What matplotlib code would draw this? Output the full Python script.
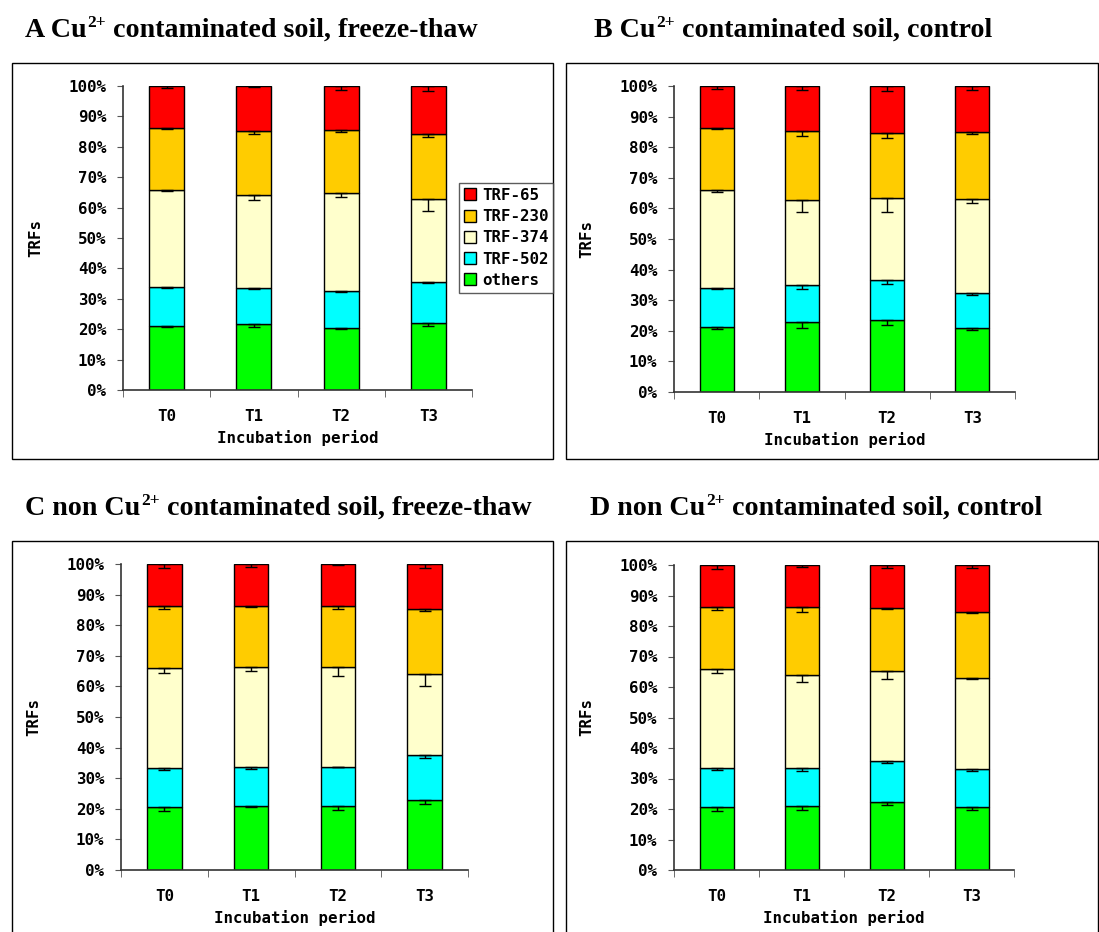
import numpy as np
import matplotlib.pyplot as plt
from matplotlib.patches import Rectangle

periods = ["T0", "T1", "T2", "T3"]
groups = ["others", "TRF-502", "TRF-374", "TRF-230", "TRF-65"]
colors = ["#00FF00", "#00FFFF", "#FFFFCC", "#FFCC00", "#FF0000"]

# relative abundance (%) of each TRF group, bottom to top
a_vals = [[21.1, 21.6, 20.5, 22.2],
          [12.9, 12.0, 12.2, 13.4],
          [31.9, 30.6, 32.2, 27.2],
          [20.2, 20.9, 20.5, 21.3],
          [13.9, 14.9, 14.6, 15.9]]
a_err = [[0.5, 1.0, 0.3, 1.0],
         [0.3, 0.3, 0.6, 0.3],
         [0.6, 1.6, 1.3, 3.8],
         [0.2, 0.9, 0.4, 1.0],
         [0.8, 0.2, 1.2, 1.8]]

b_vals = [[21.2, 22.9, 23.5, 20.9],
          [12.8, 12.1, 13.0, 11.5],
          [32.0, 27.6, 26.8, 30.6],
          [20.2, 22.7, 21.3, 22.0],
          [13.8, 14.7, 15.4, 15.0]]
b_err = [[0.7, 2.0, 1.7, 0.5],
         [0.3, 1.3, 1.1, 0.8],
         [0.6, 3.8, 4.5, 1.1],
         [0.2, 1.7, 1.5, 0.8],
         [0.9, 1.2, 1.5, 1.2]]

c_vals = [[20.5, 20.8, 20.8, 22.9],
          [12.9, 12.8, 12.9, 14.6],
          [32.6, 32.7, 32.6, 26.5],
          [20.4, 20.1, 20.1, 21.4],
          [13.6, 13.6, 13.6, 14.6]]
c_err = [[1.3, 0.3, 1.3, 1.3],
         [0.6, 0.7, 0.1, 1.0],
         [1.5, 1.2, 2.9, 4.0],
         [1.0, 0.6, 1.1, 0.8],
         [1.4, 1.0, 0.3, 1.4]]

d_vals = [[20.5, 20.9, 22.3, 20.5],
          [12.9, 12.5, 13.5, 12.5],
          [32.6, 30.4, 29.6, 29.8],
          [20.2, 22.4, 20.5, 21.8],
          [13.8, 13.8, 14.1, 15.4]]
d_err = [[1.3, 1.3, 1.0, 0.7],
         [0.5, 1.0, 0.7, 0.5],
         [1.4, 2.3, 2.8, 0.3],
         [1.0, 1.7, 0.3, 0.3],
         [1.4, 0.8, 1.1, 1.1]]

# title pieces: before superscript, superscript, after
titles = [("A Cu", "2+", " contaminated soil, freeze-thaw"),
          ("B Cu", "2+", " contaminated soil, control"),
          ("C non Cu", "2+", " contaminated soil, freeze-thaw"),
          ("D non Cu", "2+", " contaminated soil, control")]

W, H = 1099, 932
fig = plt.figure(figsize=(W / 100, H / 100), dpi=100)

mono = dict(family="DejaVu Sans Mono", weight="bold", size=11.3)


def px_axes(x0, y0, x1, y1):
    return fig.add_axes([x0 / W, 1 - y1 / H, (x1 - x0) / W, (y1 - y0) / H])


def frame(x0, y0, x1, y1):
    fig.patches.append(Rectangle((x0 / W, 1 - y1 / H), (x1 - x0) / W, (y1 - y0) / H,
                                 transform=fig.transFigure, fill=False,
                                 edgecolor="black", linewidth=1.0))


def panel(ax, vals, errs):
    x = np.arange(len(periods))
    bottom = np.zeros(len(periods))
    for name, v, e, c in zip(groups, vals, errs, colors):
        v = np.array(v)
        top = bottom + v
        ax.bar(x, v, 0.4, bottom=bottom, color=c, edgecolor="black",
               linewidth=1.0, label=name, zorder=2)
        ax.errorbar(x, top, yerr=[e, np.zeros(len(e))], fmt="none",
                    ecolor="black", elinewidth=1.0, capsize=4, capthick=1.0, zorder=3)
        bottom = top
    ax.set_xlim(-0.5, len(periods) - 0.5)
    ax.set_ylim(0, 100)
    ax.set_yticks(np.arange(0, 101, 10))
    ax.set_yticklabels(["%d%%" % t for t in range(0, 101, 10)], **mono)
    ax.set_xticks(x)
    ax.set_xticklabels(periods, **mono)
    ax.set_xticks(np.arange(-0.5, len(periods), 1.0), minor=True)
    ax.tick_params(axis="x", which="major", length=0, pad=14)
    ax.tick_params(axis="x", which="minor", length=5, direction="out", color="#555555")
    ax.tick_params(axis="y", length=4, direction="out", pad=8, color="#555555")
    for s in ["top", "right"]:
        ax.spines[s].set_visible(False)
    for s in ["left", "bottom"]:
        ax.spines[s].set_color("#333333")
        ax.spines[s].set_linewidth(1.2)
    ax.set_xlabel("Incubation period", labelpad=4, **mono)
    ax.set_ylabel("TRFs", labelpad=18, **mono)
    ax.patch.set_alpha(0)


def title(x, y, parts, size=20.2):
    # y is the baseline in pixels from the top
    font = dict(family="Liberation Serif", weight="bold")
    r = fig.canvas.get_renderer()
    t = fig.text(x / W, 1 - y / H, parts[0], va="baseline", size=size, **font)
    x1 = t.get_window_extent(r).x1
    s = fig.text(x1 / W + 0.001, 1 - (y - 10) / H, parts[1], va="baseline",
                 size=size * 0.62, **font)
    x2 = s.get_window_extent(r).x1
    fig.text(x2 / W, 1 - y / H, parts[2], va="baseline", size=size, **font)


# panel frames
frame(12, 63, 553, 459)
frame(566, 63, 1098, 459)
frame(12, 541, 553, 940)
frame(566, 541, 1098, 940)

axA = px_axes(123, 86, 472, 390)
axB = px_axes(674, 86, 1015, 392)
axC = px_axes(121, 564, 468, 870)
axD = px_axes(674, 565, 1014, 870)

panel(axA, a_vals, a_err)
panel(axB, b_vals, b_err)
panel(axC, c_vals, c_err)
panel(axD, d_vals, d_err)

# legend for panel A, top entry first
h, l = axA.get_legend_handles_labels()
leg = fig.legend(h[::-1], l[::-1], loc="upper left",
                 bbox_to_anchor=(459 / W, 1 - 183 / H), prop=mono,
                 frameon=True, fancybox=False, edgecolor="#333333",
                 handlelength=0.8, handleheight=0.8, handletextpad=0.35,
                 labelspacing=0.4, borderpad=0.3, borderaxespad=0)
leg.get_frame().set_linewidth(1.0)

title(25, 37, titles[0])
title(594, 37, titles[1])
title(25, 515, titles[2])
title(590, 515, titles[3])

fig.savefig("out.png", dpi=100)
